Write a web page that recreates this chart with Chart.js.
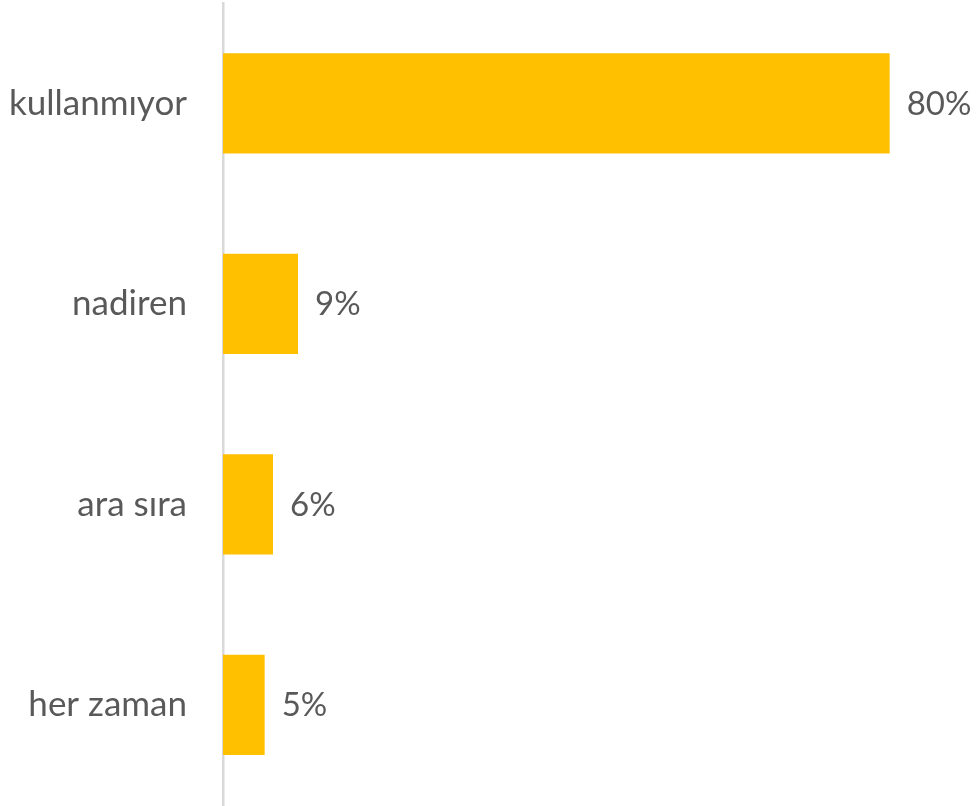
<!DOCTYPE html>
<html>
<head>
<meta charset="utf-8">
<script src="https://cdn.jsdelivr.net/npm/chart.js@4"></script>
<style>
html,body{margin:0;padding:0;background:#fff;}
#wrap{width:979px;height:806px;}
</style>
</head>
<body>
<div id="wrap"><canvas id="c" width="979" height="806"></canvas></div>
<script>
const categories = ["kullanmıyor", "nadiren", "ara sıra", "her zaman"];
const values = [80, 9, 6, 5];
const valueLabels = ["80%", "9%", "6%", "5%"];

const FONT = "Lato";
const TEXT = "#595959";

const valueLabelPlugin = {
  id: "valueLabels",
  afterDatasetsDraw(chart) {
    const ctx = chart.ctx;
    const meta = chart.getDatasetMeta(0);
    ctx.save();
    ctx.font = "33px " + FONT;
    ctx.fillStyle = TEXT;
    ctx.textAlign = "left";
    ctx.textBaseline = "middle";
    meta.data.forEach((bar, i) => {
      ctx.fillText(valueLabels[i], bar.x + 17, bar.y + 1);
    });
    ctx.restore();
  }
};

new Chart(document.getElementById("c"), {
  type: "bar",
  data: {
    labels: categories,
    datasets: [{
      data: values,
      backgroundColor: "#FFC000",
      borderWidth: 0,
      barPercentage: 0.5,
      categoryPercentage: 1.0
    }]
  },
  options: {
    indexAxis: "y",
    responsive: false,
    animation: false,
    layout: { padding: { left: 0, right: 6, top: 3, bottom: 1 } },
    plugins: { legend: { display: false }, tooltip: { enabled: false } },
    scales: {
      x: { display: false, min: 0, max: 90 },
      y: {
        afterFit(scale) {
          scale.width = 223;
          scale.paddingTop = 0;
          scale.paddingBottom = 0;
        },
        grid: { display: false, drawTicks: false },
        border: { display: true, color: "#d9d9d9", width: 2.5 },
        ticks: {
          padding: 36,
          color: TEXT,
          font: { family: FONT, size: 35 }
        }
      }
    }
  },
  plugins: [valueLabelPlugin]
});
</script>
</body>
</html>
